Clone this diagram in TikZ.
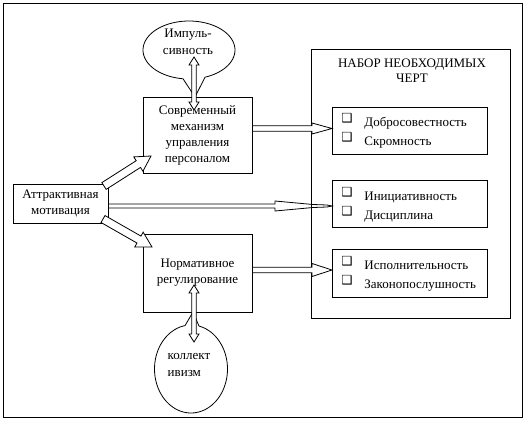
\documentclass[tikz,border=0pt]{standalone}
\usepackage{fontspec}
\setmainfont{Liberation Serif}
\newfontfamily\symfont{DejaVu Sans}
\usetikzlibrary{calc}
% hollow single arrow: [opts]{from}{to}{shaft half width}{head length}{head half width}
\newcommand\harrow[6][]{%
  \coordinate (hb) at ($(#3)!#5!(#2)$);
  \draw[#1] ($(#2)!#4!90:(#3)$) -- ($(hb)!#4!-90:(#2)$) -- ($(hb)!#6!-90:(#2)$) -- (#3)
    -- ($(hb)!#6!90:(#2)$) -- ($(hb)!#4!90:(#2)$) -- ($(#2)!#4!-90:(#3)$) -- cycle;
}
% hollow double arrow
\newcommand\dharrow[6][]{%
  \coordinate (hb) at ($(#3)!#5!(#2)$);
  \coordinate (ha) at ($(#2)!#5!(#3)$);
  \draw[#1] (#2) -- ($(ha)!#6!90:(#3)$) -- ($(ha)!#4!90:(#3)$) -- ($(hb)!#4!-90:(#2)$)
    -- ($(hb)!#6!-90:(#2)$) -- (#3) -- ($(hb)!#6!90:(#2)$) -- ($(hb)!#4!90:(#2)$)
    -- ($(ha)!#4!-90:(#3)$) -- ($(ha)!#6!-90:(#3)$) -- cycle;
}
\begin{document}
\begin{tikzpicture}[x=1pt,y=-1pt,line width=0.8pt,
  box/.style={draw,rectangle,inner sep=0pt,align=center,font=\fontsize{13}{16}\selectfont},
  txt/.style={inner sep=0pt,font=\fontsize{13}{16}\selectfont},
  chk/.style={inner sep=0pt,font=\symfont\fontsize{12.5}{12.5}\selectfont,anchor=base west},
  item/.style={txt,anchor=base west}]
\useasboundingbox (0,0) rectangle (525,421);
\draw (3,3) rectangle (522,417);

% main boxes
\node[box,minimum width=109,minimum height=76] (sovr) at (197.5,135) {Современный\\механизм\\управления\\персоналом};
\node[box,minimum width=109,minimum height=78] (norm) at (197.5,273) {Нормативное\\регулирование};
\node[box,minimum width=95,minimum height=39] (attr) at (60.5,203.5) {Аттрактивная\\мотивация};

% middle arrow (under the frame)
\coordinate (m1) at (108,206);
\coordinate (m2) at (332,206);
\draw (m1) ++(0,-2) -- ++(167,0) -- ++(0,-3) -- ($(m1)+(205,-1.5)$) -- ($(m1)+(219,-1)$) -- (m2)
  -- ($(m1)+(219,1)$) -- ($(m1)+(205,1.5)$) -- ($(m1)+(167,5)$) -- ++(0,-3) -- ($(m1)+(0,2)$);

% right frame
\node[draw,rectangle,inner sep=0pt,minimum width=199,minimum height=269] (nabor) at (410.5,183.5) {};
\node[txt,align=center] (title) at (412,70.5) {НАБОР НЕОБХОДИМЫХ\\[-1pt]ЧЕРТ};
\node[draw,rectangle,inner sep=0pt,minimum width=155,minimum height=47] (b1) at (409.5,130.5) {};
\node[draw,rectangle,inner sep=0pt,minimum width=155,minimum height=47] (b2) at (409.5,203.5) {};
\node[draw,rectangle,inner sep=0pt,minimum width=155,minimum height=48] (b3) at (409.5,273) {};

\node[chk] (c1) at (341,122.5) {❑};
\node[item] (t1) at (364,126) {Добросовестность};
\node[chk] (c2) at (341,141.5) {❑};
\node[item] (t2) at (364,145) {Скромность};
\node[chk] (c3) at (341,196.5) {❑};
\node[item] (t3) at (364,200) {Инициативность};
\node[chk] (c4) at (341,215.5) {❑};
\node[item] (t4) at (364,219) {Дисциплина};
\node[chk] (c5) at (341,265.5) {❑};
\node[item] (t5) at (364,269) {Исполнительность};
\node[chk] (c6) at (341,284.5) {❑};
\node[item] (t6) at (364,288) {Законопослушность};

% callouts (ellipse with pointed tail)
\coordinate (p1) at (195,97);
\coordinate (p2) at (193,312);
\draw[fill=white] plot[domain=97.5:429.6,samples=80,smooth] ({189+46*cos(\x)},{50+29*sin(\x)}) -- (p1) -- cycle;
\node[txt,align=center] (impt) at (188,41.5) {Импуль-\\[1pt]сивность};
\draw[fill=white] plot[domain=282.7:620.6,samples=80,smooth] ({191+36.5*cos(\x)},{369+44*sin(\x)}) -- (p2) -- cycle;
\node[txt,align=left] (kolt) at (189,364.5) {коллект\\[1pt]ивизм};

% arrows
\coordinate (a1s) at (104,186);
\coordinate (a1e) at (151,156);
\harrow[fill=white]{a1s}{a1e}{4pt}{15pt}{8.5pt}
\coordinate (a2s) at (103,219);
\coordinate (a2e) at (152,247);
\harrow[fill=white]{a2s}{a2e}{4pt}{15pt}{8.5pt}
\coordinate (h1s) at (252.5,128.5);
\coordinate (h1e) at (332,128.5);
\harrow[fill=white]{h1s}{h1e}{2.8pt}{20pt}{5.5pt}
\coordinate (h3s) at (252.5,270);
\coordinate (h3e) at (332,270);
\harrow[fill=white]{h3s}{h3e}{2.8pt}{20pt}{6.5pt}
\coordinate (v1s) at (194,110);
\coordinate (v1e) at (194,57);
\dharrow[fill=white]{v1s}{v1e}{2.2pt}{8pt}{5pt}
\coordinate (v2s) at (194,285);
\coordinate (v2e) at (194,342);
\dharrow[fill=white]{v2s}{v2e}{2.2pt}{8pt}{5pt}
\end{tikzpicture}
\end{document}
